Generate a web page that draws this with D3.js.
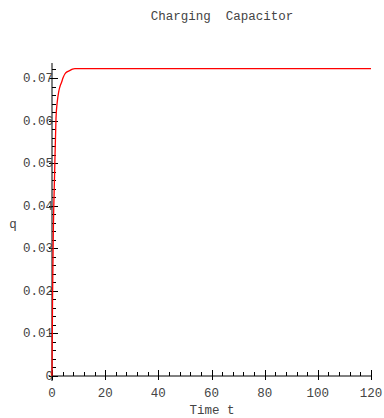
<!DOCTYPE html>
<html>
<head>
<meta charset="utf-8">
<script src="https://cdn.jsdelivr.net/npm/d3@7"></script>
<style>
  body { margin: 0; background: #fff; }
  text { font-family: "Liberation Mono", "DejaVu Sans Mono", monospace; fill: #444; }
</style>
</head>
<body>
<svg id="chart" width="384" height="418"></svg>
<script>
// values
var timeValues = [0, 0.2, 0.5, 1, 1.5, 2, 2.5, 3, 3.6, 4.2, 4.9, 5.8, 6.8, 7.7, 8.6, 10, 120];
var chargeValues = [0, 0.018, 0.034, 0.048, 0.0605, 0.0645, 0.0667, 0.068, 0.069, 0.0701, 0.071, 0.0715, 0.0718, 0.0721, 0.0722, 0.0722, 0.0722];
var xTicks = [0, 20, 40, 60, 80, 100, 120];
var yTicks = [0, 0.01, 0.02, 0.03, 0.04, 0.05, 0.06, 0.07];

var svg = d3.select("#chart");

var x = d3.scaleLinear().domain([0, 120]).range([52, 371]);
var y = d3.scaleLinear().domain([0, 0.07]).range([376, 78]);

var g = svg.append("g");

// title
svg.append("text")
  .attr("x", 222).attr("y", 20)
  .attr("text-anchor", "middle")
  .style("font-size", "12.5px")
  .style("white-space", "pre")
  .text("Charging  Capacitor");

// axes lines
g.append("line")
  .attr("x1", x(0)).attr("x2", x(0))
  .attr("y1", y(0) + 5).attr("y2", 63)
  .attr("stroke", "#000");
g.append("line")
  .attr("x1", x(0)).attr("x2", x(120))
  .attr("y1", y(0)).attr("y2", y(0))
  .attr("stroke", "#000");

// y ticks: minor every 0.002
var yMinor = d3.range(0, 0.0731, 0.002);
g.selectAll(".ymin")
  .data(yMinor)
  .enter()
  .append("line")
  .attr("x1", x(0)).attr("x2", x(0) + 4)
  .attr("y1", function(d) { return Math.round(y(d)) + 0.5; })
  .attr("y2", function(d) { return Math.round(y(d)) + 0.5; })
  .attr("stroke", "#000");
g.selectAll(".ymaj")
  .data(yTicks)
  .enter()
  .append("line")
  .attr("x1", x(0) - 3).attr("x2", x(0) + 6)
  .attr("y1", function(d) { return Math.round(y(d)) + 0.5; })
  .attr("y2", function(d) { return Math.round(y(d)) + 0.5; })
  .attr("stroke", "#000");
g.selectAll(".ylab")
  .data(yTicks)
  .enter()
  .append("text")
  .attr("x", x(0) + 1)
  .attr("y", function(d) { return y(d) + 4; })
  .attr("text-anchor", "end")
  .style("font-size", "12.5px")
  .text(function(d) { return d === 0 ? "0" : d3.format(".2f")(d); });

// x ticks: minor every 4
var xMinor = d3.range(0, 121, 4);
g.selectAll(".xmin")
  .data(xMinor)
  .enter()
  .append("line")
  .attr("x1", function(d) { return Math.round(x(d)) + 0.5; })
  .attr("x2", function(d) { return Math.round(x(d)) + 0.5; })
  .attr("y1", y(0)).attr("y2", y(0) - 4)
  .attr("stroke", "#000");
g.selectAll(".xmaj")
  .data(xTicks)
  .enter()
  .append("line")
  .attr("x1", function(d) { return Math.round(x(d)) + 0.5; })
  .attr("x2", function(d) { return Math.round(x(d)) + 0.5; })
  .attr("y1", y(0) + 4).attr("y2", y(0) - 6)
  .attr("stroke", "#000");
g.selectAll(".xlab")
  .data(xTicks)
  .enter()
  .append("text")
  .attr("x", function(d) { return x(d); })
  .attr("y", 397)
  .attr("text-anchor", "middle")
  .style("font-size", "12.5px")
  .text(function(d) { return d; });

// axis labels
svg.append("text")
  .attr("x", 212).attr("y", 414)
  .attr("text-anchor", "middle")
  .style("font-size", "12.5px")
  .text("Time t");
svg.append("text")
  .attr("x", 13).attr("y", 228)
  .attr("text-anchor", "middle")
  .style("font-size", "12.5px")
  .text("q");

// curve
var pts = timeValues.map(function(t, i) { return [t, chargeValues[i]]; });
var line = d3.line()
  .x(function(d) { return x(d[0]); })
  .y(function(d) { return y(d[1]); })
  .curve(d3.curveMonotoneX);
g.append("path")
  .datum(pts)
  .attr("d", line)
  .attr("fill", "none")
  .attr("stroke", "#ff0000")
  .attr("stroke-width", 1.3);
</script>
</body>
</html>
